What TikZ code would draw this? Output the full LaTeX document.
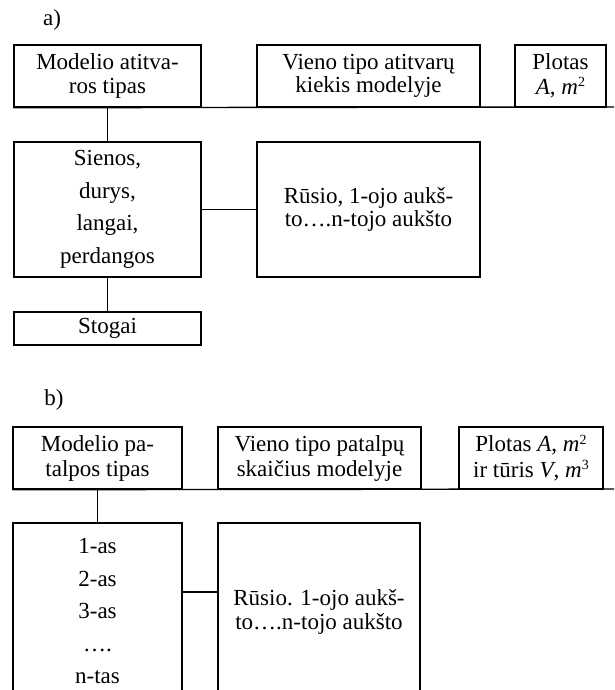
\documentclass[tikz,border=0pt]{standalone}
\usepackage{fontspec}
\setmainfont{Liberation Serif}
\newcommand\mysup[1]{\raisebox{0.33em}{\fontsize{14}{14}\selectfont #1}}
\begin{document}
\begin{tikzpicture}[x=1pt,y=-1pt,
  box/.style={draw, line width=1.4pt, inner sep=0pt, align=center,
    font=\fontsize{23}{23.5}\selectfont},
  tallbox/.style={box, font=\fontsize{23}{32.5}\selectfont},
  conn/.style={line width=1.4pt},
  lbl/.style={font=\fontsize{23}{24}\selectfont, inner sep=0pt}]
\useasboundingbox (0,0) rectangle (614,690);
\clip (0,0) rectangle (614,690);

% ---------- a) ----------
\node[lbl] (la) at (52,20) {a)};
\node[box, minimum width=187pt, minimum height=62pt] (A1) at (107.5,76) {Modelio atitva-\\ros tipas};
\node[box, minimum width=223pt, minimum height=62pt] (A2) at (368.5,76) {Vieno tipo atitvarų\\kiekis modelyje};
\node[box, minimum width=91pt, minimum height=62pt, font=\fontsize{23}{24.5}\selectfont] (A3) at (560.5,76) {Plotas\\\textit{A}, \textit{m}\mysup{2}};
\coordinate (aend) at (616,107);
\node[tallbox, minimum width=187pt, minimum height=135pt] (A4) at (107.5,209.5) {Sienos,\\durys,\\langai,\\perdangos};
\node[box, minimum width=223pt, minimum height=135pt] (A5) at (368.5,209.5) {Rūsio, 1-ojo aukš-\\to….n-tojo aukšto};
\node[box, minimum width=187pt, minimum height=33pt] (A6) at (107.5,328.5) {Stogai};
\draw[conn] (A1.south west) -- (aend);
\draw[conn] (A1.south) -- (A4.north);
\draw[conn] (A4.east) -- (A5.west);
\draw[conn] (A4.south) -- (A6.north);

% ---------- b) ----------
\node[lbl] (lb) at (54,400) {b)};
\node[box, minimum width=169pt, minimum height=62pt, font=\fontsize{23}{25}\selectfont] (B1) at (97.5,458) {Modelio pa-\\talpos tipas};
\node[box, minimum width=203pt, minimum height=62pt, font=\fontsize{23}{25}\selectfont] (B2) at (319.5,458) {Vieno tipo patalpų\\skaičius modelyje};
\node[box, minimum width=144pt, minimum height=62pt, font=\fontsize{23}{25.5}\selectfont] (B3) at (531,458) {Plotas \textit{A}, \textit{m}\mysup{2}\\ir tūris \textit{V}, \textit{m}\mysup{3}};
\coordinate (bend) at (616,489);
\node[tallbox, minimum width=169pt, minimum height=177pt] (B4) at (97.5,611.5) {1-as\\2-as\\3-as\\….\\n-tas};
\node[box, minimum width=202pt, minimum height=177pt, font=\fontsize{23}{24}\selectfont] (B5) at (319,611.5) {Rūsio. 1-ojo aukš-\\to….n-tojo aukšto};
\draw[conn] (B1.south west) -- (bend);
\draw[conn] (B1.south) -- (B4.north);
\draw[conn] ([yshift=19.5pt]B4.east) -- ([yshift=19.5pt]B5.west);
\end{tikzpicture}
\end{document}
